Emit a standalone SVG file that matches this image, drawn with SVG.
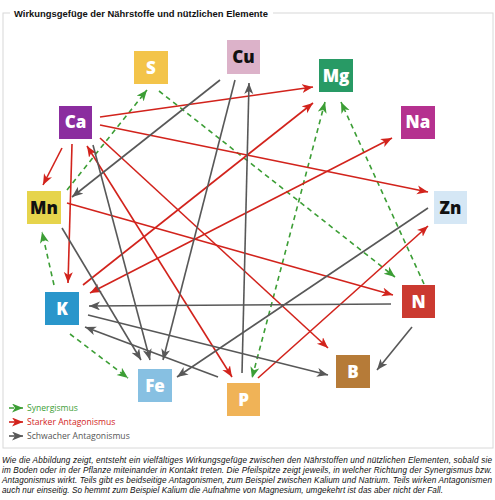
<svg xmlns="http://www.w3.org/2000/svg" width="495" height="500" viewBox="0 0 495 500">
<style>
.node text{font-family:"Open Sans","Liberation Sans",sans-serif;font-weight:800;font-size:17px;text-anchor:middle}
.w{fill:#fff}.b{fill:#111}
.syn{stroke:#3c9e35;stroke-width:1.6;stroke-dasharray:5,4;fill:none}
.str{stroke:#d2231c;stroke-width:1.6;fill:none}
.weak{stroke:#585858;stroke-width:1.6;fill:none}
.cap{font-family:"Liberation Sans",Arial,sans-serif;font-style:italic;font-size:8.2px;fill:#111}
.leg{font-family:"Open Sans","Liberation Sans",sans-serif;font-size:8.6px}
</style>
<defs>
<marker id="ag" markerUnits="userSpaceOnUse" markerWidth="12" markerHeight="10" refX="11" refY="4.5" orient="auto-start-reverse"><path d="M0,0 L11,4.5 L0,9 L3,4.5 z" fill="#3c9e35"/></marker>
<marker id="ar" markerUnits="userSpaceOnUse" markerWidth="12" markerHeight="10" refX="11" refY="4.5" orient="auto-start-reverse"><path d="M0,0 L11,4.5 L0,9 L3,4.5 z" fill="#d2231c"/></marker>
<marker id="aw" markerUnits="userSpaceOnUse" markerWidth="12" markerHeight="10" refX="11" refY="4.5" orient="auto-start-reverse"><path d="M0,0 L11,4.5 L0,9 L3,4.5 z" fill="#585858"/></marker>
</defs>
<rect width="495" height="500" fill="#fff"/>
<rect x="3" y="13" width="490" height="435" fill="none" stroke="#d8d8d8" stroke-width="1"/>
<rect x="10" y="6" width="263" height="14" fill="#fff"/>
<text x="14" y="17" font-family="Liberation Sans,Arial,sans-serif" font-weight="bold" font-size="9.3" textLength="254" lengthAdjust="spacingAndGlyphs" fill="#111">Wirkungsgefüge der Nährstoffe und nützlichen Elemente</text>

<g id="connectors">
<line class="syn" x1="67" y1="190" x2="147" y2="90" marker-end="url(#ag)"/>
<line class="syn" x1="159" y1="91" x2="395" y2="277" marker-end="url(#ag)"/>
<line class="syn" x1="325" y1="102" x2="252" y2="378" marker-start="url(#ag)" marker-end="url(#ag)"/>
<line class="syn" x1="424" y1="284" x2="341" y2="102" marker-end="url(#ag)"/>
<line class="syn" x1="54" y1="285" x2="42" y2="232" marker-end="url(#ag)"/>
<line class="syn" x1="70" y1="334" x2="128" y2="378" marker-end="url(#ag)"/>

<line class="str" x1="100" y1="117" x2="313" y2="87" marker-end="url(#ar)"/>
<line class="str" x1="100" y1="125" x2="428" y2="192" marker-end="url(#ar)"/>
<line class="str" x1="62" y1="148" x2="43" y2="185" marker-end="url(#ar)"/>
<line class="str" x1="72" y1="144" x2="68" y2="283" marker-end="url(#ar)"/>
<line class="str" x1="100" y1="138" x2="328" y2="348" marker-end="url(#ar)"/>
<line class="str" x1="87" y1="146" x2="232" y2="377" marker-start="url(#ar)" marker-end="url(#ar)"/>
<line class="str" x1="83" y1="285" x2="313" y2="103" marker-end="url(#ar)"/>
<line class="str" x1="90" y1="293" x2="392" y2="138" marker-start="url(#ar)" marker-end="url(#ar)"/>
<line class="str" x1="67" y1="203" x2="393" y2="295" marker-end="url(#ar)"/>
<line class="str" x1="258" y1="378" x2="428" y2="226" marker-end="url(#ar)"/>

<line class="weak" x1="220" y1="80" x2="72" y2="197" marker-end="url(#aw)"/>
<line class="weak" x1="235" y1="80" x2="163" y2="360" marker-end="url(#aw)"/>
<line class="weak" x1="242" y1="373" x2="249" y2="83" marker-end="url(#aw)"/>
<line class="weak" x1="93" y1="145" x2="150" y2="360" marker-end="url(#aw)"/>
<line class="weak" x1="62" y1="228" x2="141" y2="360" marker-end="url(#aw)"/>
<line class="weak" x1="428" y1="208" x2="177" y2="377" marker-end="url(#aw)"/>
<line class="weak" x1="391" y1="304" x2="89" y2="306" marker-end="url(#aw)"/>
<line class="weak" x1="412" y1="327" x2="377" y2="370" marker-end="url(#aw)"/>
<line class="weak" x1="88" y1="315" x2="328" y2="375" marker-end="url(#aw)"/>
<line class="weak" x1="218" y1="377" x2="85" y2="327" marker-end="url(#aw)"/>
</g>

<g id="S" class="node"><rect x="134" y="51" width="34" height="33" fill="#f3c44a"/><text class="w" x="151" y="73.5">S</text></g>
<g id="Cu" class="node"><rect x="227" y="40" width="33" height="34" fill="#dcb2c9"/><text class="b" x="243.5" y="63">Cu</text></g>
<g id="Mg" class="node"><rect x="319" y="59" width="34" height="33" fill="#289a65"/><text class="w" x="336" y="81.5">Mg</text></g>
<g id="Ca" class="node"><rect x="59" y="106" width="33" height="33" fill="#8b2d9f"/><text class="w" x="75.5" y="128">Ca</text></g>
<g id="Na" class="node"><rect x="401" y="106" width="34" height="33" fill="#b5318f"/><text class="w" x="418" y="128">Na</text></g>
<g id="Mn" class="node"><rect x="27" y="191" width="34" height="33" fill="#e6d44c"/><text class="b" x="44" y="213.5">Mn</text></g>
<g id="Zn" class="node"><rect x="434" y="191" width="33" height="33" fill="#d5e7f5"/><text class="b" x="450.5" y="213.5">Zn</text></g>
<g id="K" class="node"><rect x="45" y="292" width="34" height="33" fill="#2996cb"/><text class="w" x="62" y="314.5">K</text></g>
<g id="N" class="node"><rect x="402" y="285" width="33" height="33" fill="#cb3a30"/><text class="w" x="418.5" y="307.5">N</text></g>
<g id="Fe" class="node"><rect x="138" y="369" width="34" height="33" fill="#87c0e2"/><text class="w" x="155" y="391.5">Fe</text></g>
<g id="B" class="node"><rect x="336" y="355" width="34" height="33" fill="#b67b38"/><text class="w" x="353" y="377.5">B</text></g>
<g id="P" class="node"><rect x="227" y="383" width="33" height="33" fill="#f0b357"/><text class="w" x="243.5" y="405.5">P</text></g>

<g id="legend">
<line class="syn" x1="9" y1="408" x2="23" y2="408" stroke-dasharray="3,2.5" marker-end="url(#ag)"/>
<text class="leg" x="27" y="411" fill="#3c9e35">Synergismus</text>
<line class="str" x1="9" y1="422" x2="23" y2="422" marker-end="url(#ar)"/>
<text class="leg" x="27" y="425" fill="#d2231c">Starker Antagonismus</text>
<line class="weak" x1="9" y1="436" x2="23" y2="436" marker-end="url(#aw)"/>
<text class="leg" x="27" y="439" fill="#555">Schwacher Antagonismus</text>
</g>

<text class="cap" x="2" y="463" textLength="490" lengthAdjust="spacing">Wie die Abbildung zeigt, entsteht ein vielfältiges Wirkungsgefüge zwischen den Nährstoffen und nützlichen Elementen, sobald sie</text>
<text class="cap" x="2" y="473" textLength="490" lengthAdjust="spacing">im Boden oder in der Pflanze miteinander in Kontakt treten. Die Pfeilspitze zeigt jeweils, in welcher Richtung der Synergismus bzw.</text>
<text class="cap" x="2" y="483" textLength="490" lengthAdjust="spacing">Antagonismus wirkt. Teils gibt es beidseitige Antagonismen, zum Beispiel zwischen Kalium und Natrium. Teils wirken Antagonismen</text>
<text class="cap" x="2" y="493" textLength="441" lengthAdjust="spacing">auch nur einseitig. So hemmt zum Beispiel Kalium die Aufnahme von Magnesium, umgekehrt ist das aber nicht der Fall.</text>
</svg>
